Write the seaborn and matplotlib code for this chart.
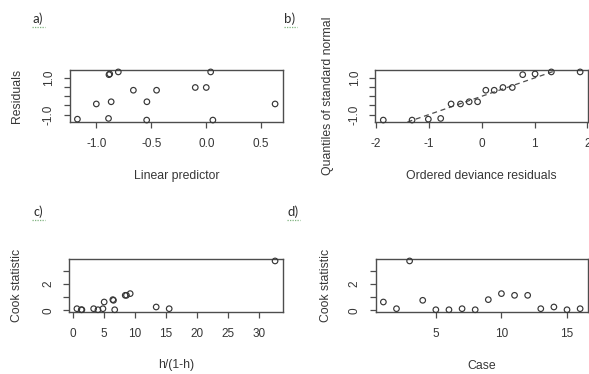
import numpy as np
import matplotlib
matplotlib.use("Agg")
import matplotlib.pyplot as plt
from matplotlib.lines import Line2D
import seaborn as sns

# values
lin_pred = [-1.172, -1.0, -0.889, -0.885, -0.878, -0.865, -0.80, -0.663,
            -0.54, -0.542, -0.452, -0.10, 0.0, 0.04, 0.06, 0.626]
residuals = [-1.25, -0.42, -1.21, 1.18, 1.22, -0.30, 1.33, 0.33,
             -0.30, -1.30, 0.33, 0.48, 0.48, 1.33, -1.30, -0.42]
normal_q = [-1.863, -1.318, -1.010, -0.776, -0.579, -0.402, -0.237, -0.078,
            0.078, 0.237, 0.402, 0.579, 0.776, 1.010, 1.318, 1.863]
case = list(range(1, 17))
cook = [0.64, 0.13, 3.77, 0.77, 0.05, 0.05, 0.13, 0.05,
        0.82, 1.28, 1.15, 1.15, 0.13, 0.26, 0.05, 0.13]
lev_ratio = [5.0, 0.6, 32.6, 6.5, 1.4, 4.0, 3.3, 6.7,
             6.4, 9.2, 8.4, 8.6, 4.8, 13.4, 1.3, 15.5]

sns.set_style("white")
plt.rcParams['font.family'] = ['Liberation Sans', 'DejaVu Sans']
plt.rcParams['axes.unicode_minus'] = False

ink = '#363636'
edge = '#4d4d4d'
W, H = 589, 374

fig = plt.figure(figsize=(5.89, 3.74), dpi=100)


def add_box(l, r, t, b):
    return fig.add_axes([l / W, 1 - b / H, (r - l) / W, (b - t) / H])


def r_lim(v):
    # R-style axis range: 4% padding each side
    lo, hi = min(v), max(v)
    p = 0.04 * (hi - lo)
    return lo - p, hi + p


def draw(ax, x, y, xlab, ylab, xticks, xtl, yticks, ytl, xl_y, yl_x):
    sns.scatterplot(x=x, y=y, ax=ax, marker='o', s=16, facecolor='none',
                    edgecolor=ink, linewidth=0.85, clip_on=False, zorder=3)
    ax.set_xlim(r_lim(x))
    ax.set_ylim(r_lim(y))
    ax.set_xticks(xticks)
    ax.set_xticklabels(xtl)
    ax.set_yticks(yticks)
    ax.set_yticklabels(ytl, rotation=90, va='center')
    for s in ax.spines.values():
        s.set_visible(True)
        s.set_color(edge)
        s.set_linewidth(1.0)
    ax.tick_params(bottom=True, left=True, direction='out', length=4.5,
                   width=0.9, color=edge, labelsize=8.5, labelcolor=ink)
    ax.tick_params(axis='x', pad=7)
    ax.tick_params(axis='y', pad=6)
    ax.set_xlabel(xlab, fontsize=8.8, color=ink)
    ax.set_ylabel(ylab, fontsize=8.8, color=ink)
    ax.xaxis.set_label_coords(0.5, xl_y)
    ax.yaxis.set_label_coords(yl_x, 0.5)


# a) residuals vs linear predictor
ax_a = add_box(69.5, 283, 70, 122)
draw(ax_a, lin_pred, residuals, 'Linear predictor', 'Residuals',
     [-1.0, -0.5, 0.0, 0.5], ['-1.0', '-0.5', '0.0', '0.5'],
     [-1.0, -0.5, 0.0, 0.5, 1.0], ['-1.0', '', '', '', '1.0'],
     -0.93, -0.218)

# b) normal QQ plot of residuals, with the identity reference line
ax_b = add_box(375.4, 588, 70, 122)
draw(ax_b, normal_q, list(np.sort(residuals)), 'Ordered deviance residuals',
     'Quantiles of standard normal',
     [-2, -1, 0, 1, 2], ['-2', '-1', '0', '1', '2'],
     [-1.0, -0.5, 0.0, 0.5, 1.0], ['-1.0', '', '', '', '1.0'],
     -0.93, -0.195)
ax_b.axline((0, 0), slope=1, color=edge, lw=0.9, dashes=(4, 3))

# c) Cook statistic vs h/(1-h)
ax_c = add_box(69, 283, 259, 311.7)
draw(ax_c, lev_ratio, cook, 'h/(1-h)', 'Cook statistic',
     list(range(0, 31, 5)), [str(v) for v in range(0, 31, 5)],
     [0, 1, 2, 3], ['0', '', '2', ''],
     -0.90, -0.215)

# d) Cook statistic vs case
ax_d = add_box(375.5, 588, 259, 311.7)
draw(ax_d, case, cook, 'Case', 'Cook statistic',
     [5, 10, 15], ['5', '10', '15'],
     [0, 1, 2, 3], ['0', '', '2', ''],
     -0.92, -0.204)

# panel letters with the spell-check underline
for lab, (px, py) in zip(['a)', 'b)', 'c)', 'd)'],
                         [(38, 19), (290, 19), (38, 212), (293, 212)]):
    fig.text(px / W, 1 - py / H, lab, fontsize=10, color='#2e2e2e',
             ha='center', va='center', family=['Carlito', 'Liberation Sans', 'DejaVu Sans'])
    fig.add_artist(Line2D([(px - 6) / W, (px + 7) / W],
                          [1 - (py + 8) / H, 1 - (py + 8) / H],
                          color='#7fb27f', lw=0.9, ls=(0, (1, 1))))

fig.savefig('out.png', dpi=100, facecolor='white')
